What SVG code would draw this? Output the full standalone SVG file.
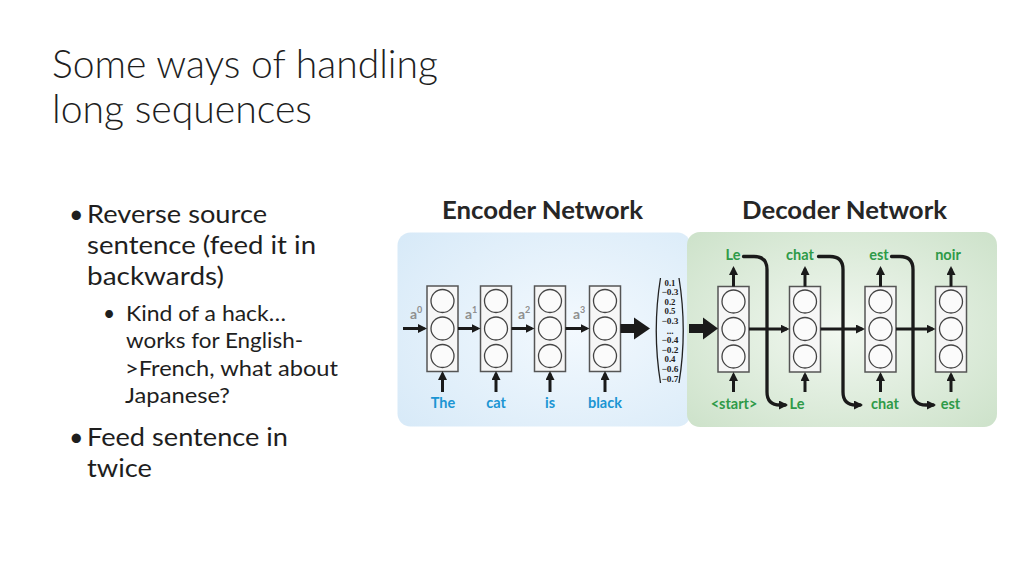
<svg xmlns="http://www.w3.org/2000/svg" width="1024" height="576" viewBox="0 0 1024 576">
<defs>
<style>
.title{font-family:Lato,"Open Sans","Liberation Sans",sans-serif;font-weight:300;font-size:39px;fill:#1e1e1e}
.b1{font-family:Lato,"Open Sans","Liberation Sans",sans-serif;font-size:25px;fill:#1e1e1e}
.b2{font-family:Lato,"Open Sans","Liberation Sans",sans-serif;font-size:21px;fill:#1e1e1e}
.head{font-family:Lato,"Open Sans","Liberation Sans",sans-serif;font-weight:bold;font-size:25px;fill:#262626}
.blue{font-family:Lato,"Open Sans","Liberation Sans",sans-serif;font-weight:bold;font-size:14.5px;fill:#1b95d3;text-anchor:middle}
.green{font-family:Lato,"Open Sans","Liberation Sans",sans-serif;font-weight:bold;font-size:14.5px;fill:#2e9a48;text-anchor:middle}
.act{font-family:Lato,"Open Sans","Liberation Sans",sans-serif;font-weight:bold;font-size:14px;fill:#8f8f8f}
.vec{font-family:"Liberation Serif",serif;font-weight:bold;font-size:9px;fill:#222;text-anchor:middle}
.cell{fill:#f6f6f6;stroke:#555;stroke-width:1.5}
.circ{fill:#fbfbfb;stroke:#444;stroke-width:1.3}
.arr{fill:none;stroke:#1a1a1a;stroke-width:3;marker-end:url(#ah)}
.curve{fill:none;stroke:#1a1a1a;stroke-width:3.3;stroke-linecap:round;marker-end:url(#ah)}
.big{fill:#1a1a1a}
.paren{fill:none;stroke:#222;stroke-width:1.3}
</style>
<marker id="ah" viewBox="0 0 10 10" refX="7" refY="5" markerWidth="9" markerHeight="9" markerUnits="userSpaceOnUse" orient="auto"><path d="M0,0 L10,5 L0,10 z" fill="#1a1a1a"/></marker>
<radialGradient id="gEnc" cx="0.6" cy="0.5" r="0.75">
<stop offset="0" stop-color="#f3f9fe"/>
<stop offset="1" stop-color="#d8eaf8"/>
</radialGradient>
<radialGradient id="gDec" cx="0.5" cy="0.5" r="0.7">
<stop offset="0" stop-color="#f2f8f1"/>
<stop offset="1" stop-color="#cde2ca"/>
</radialGradient>
<g id="cellShape">
<rect class="cell" x="0" y="0" width="31" height="85.5"/>
<circle class="circ" cx="15.5" cy="15" r="11.5"/>
<circle class="circ" cx="15.5" cy="42.5" r="11.5"/>
<circle class="circ" cx="15.5" cy="70" r="11.5"/>
</g>
</defs>
<rect width="1024" height="576" fill="#ffffff"/>

<g id="slide-text">
<text class="title" x="52" y="78" textLength="386" lengthAdjust="spacingAndGlyphs">Some ways of handling</text>
<text class="title" x="52" y="123" textLength="260" lengthAdjust="spacingAndGlyphs">long sequences</text>
<text class="b1" x="69" y="223">•</text>
<text class="b1" x="87" y="223" textLength="180" lengthAdjust="spacingAndGlyphs">Reverse source</text>
<text class="b1" x="87" y="254" textLength="229" lengthAdjust="spacingAndGlyphs">sentence (feed it in</text>
<text class="b1" x="87" y="285" textLength="137" lengthAdjust="spacingAndGlyphs">backwards)</text>
<text class="b2" x="103" y="321">•</text>
<text class="b2" x="126" y="321" textLength="160" lengthAdjust="spacingAndGlyphs">Kind of a hack…</text>
<text class="b2" x="126" y="348" textLength="177" lengthAdjust="spacingAndGlyphs">works for English-</text>
<text class="b2" x="125" y="376" textLength="213" lengthAdjust="spacingAndGlyphs">&gt;French, what about</text>
<text class="b2" x="125" y="403" textLength="105" lengthAdjust="spacingAndGlyphs">Japanese?</text>
<text class="b1" x="69" y="446">•</text>
<text class="b1" x="87" y="446" textLength="201" lengthAdjust="spacingAndGlyphs">Feed sentence in</text>
<text class="b1" x="87" y="477" textLength="65" lengthAdjust="spacingAndGlyphs">twice</text>
</g>

<g id="panels">
<rect id="encoder-panel" x="397.5" y="232.5" width="293" height="194" rx="13" fill="url(#gEnc)"/>
<rect id="decoder-panel" x="687" y="232" width="310" height="195" rx="13" fill="url(#gDec)"/>
<text class="head" x="442" y="219" textLength="201" lengthAdjust="spacingAndGlyphs">Encoder Network</text>
<text class="head" x="742" y="219" textLength="205" lengthAdjust="spacingAndGlyphs">Decoder Network</text>
</g>

<g id="encoder">
<g id="enc1"><use href="#cellShape" x="427" y="286"/><text class="blue" x="443" y="408">The</text></g>
<g id="enc2"><use href="#cellShape" x="480.5" y="286"/><text class="blue" x="496" y="408">cat</text></g>
<g id="enc3"><use href="#cellShape" x="534.5" y="286"/><text class="blue" x="550" y="408">is</text></g>
<g id="enc4"><use href="#cellShape" x="589.5" y="286"/><text class="blue" x="605" y="408">black</text></g>
<g id="act-labels">
<text class="act" x="410" y="319">a<tspan font-size="9" dy="-6">0</tspan></text>
<text class="act" x="465" y="319">a<tspan font-size="9" dy="-6">1</tspan></text>
<text class="act" x="518" y="319">a<tspan font-size="9" dy="-6">2</tspan></text>
<text class="act" x="573" y="319">a<tspan font-size="9" dy="-6">3</tspan></text>
</g>
</g>

<g id="vector">
<path class="paren" d="M660.5,278 Q652,330.5 660.5,383"/>
<path class="paren" d="M679,278 Q687.5,330.5 679,383"/>
<text class="vec" x="670" y="285.5" textLength="11" lengthAdjust="spacingAndGlyphs">0.1</text>
<text class="vec" x="670" y="295.1" textLength="17" lengthAdjust="spacingAndGlyphs">−0.3</text>
<text class="vec" x="670" y="304.7" textLength="11" lengthAdjust="spacingAndGlyphs">0.2</text>
<text class="vec" x="670" y="314.3" textLength="11" lengthAdjust="spacingAndGlyphs">0.5</text>
<text class="vec" x="670" y="323.9" textLength="17" lengthAdjust="spacingAndGlyphs">−0.3</text>
<text class="vec" x="670" y="333.5" font-size="7">...</text>
<text class="vec" x="670" y="343.1" textLength="17" lengthAdjust="spacingAndGlyphs">−0.4</text>
<text class="vec" x="670" y="352.7" textLength="17" lengthAdjust="spacingAndGlyphs">−0.2</text>
<text class="vec" x="670" y="362.3" textLength="11" lengthAdjust="spacingAndGlyphs">0.4</text>
<text class="vec" x="670" y="371.9" textLength="17" lengthAdjust="spacingAndGlyphs">−0.6</text>
<text class="vec" x="670" y="381.5" textLength="17" lengthAdjust="spacingAndGlyphs">−0.7</text>
</g>

<g id="decoder">
<g id="dec1"><use href="#cellShape" x="718" y="286.5"/><text class="green" x="733" y="259.5">Le</text><text class="green" x="734" y="408.5">&lt;start&gt;</text></g>
<g id="dec2"><use href="#cellShape" x="789.5" y="286.5"/><text class="green" x="800" y="259.5">chat</text><text class="green" x="797" y="408.5">Le</text></g>
<g id="dec3"><use href="#cellShape" x="865" y="286.5"/><text class="green" x="879" y="259.5">est</text><text class="green" x="885" y="408.5">chat</text></g>
<g id="dec4"><use href="#cellShape" x="935.5" y="286.5"/><text class="green" x="948" y="259.5">noir</text><text class="green" x="950.5" y="408.5">est</text></g>
</g>

<g id="connectors">
<path class="arr" d="M403,328.5 H424.3"/>
<path class="arr" d="M458,328.5 H477.8"/>
<path class="arr" d="M511.5,328.5 H531.8"/>
<path class="arr" d="M565.5,328.5 H586.8"/>
<path class="arr" d="M442.5,392 V373.7"/>
<path class="arr" d="M496,392 V373.7"/>
<path class="arr" d="M550,392 V373.7"/>
<path class="arr" d="M605,392 V373.7"/>
<polygon class="big" points="620.5,324 634,324 634,317.5 650,328.5 634,339.5 634,333 620.5,333"/>
<polygon class="big" points="689,324 703,324 703,317.5 718,328.5 703,339.5 703,333 689,333"/>
<path class="arr" d="M749,329 H786.8"/>
<path class="arr" d="M820.5,329 H862.3"/>
<path class="arr" d="M896,329 H932.8"/>
<path class="arr" d="M733.5,392 V374.7"/>
<path class="arr" d="M805,392 V374.7"/>
<path class="arr" d="M880.5,392 V374.7"/>
<path class="arr" d="M951,392 V374.7"/>
<path class="arr" d="M733.5,286.5 V268.7"/>
<path class="arr" d="M805,286.5 V268.7"/>
<path class="arr" d="M880.5,286.5 V268.7"/>
<path class="arr" d="M951,286.5 V268.7"/>
<path class="curve" d="M743.5,256.5 H754 Q767,256.5 767,269.5 V392 Q767,405 780,405 H785.3"/>
<path class="curve" d="M818.5,256.5 H830 Q843,256.5 843,269.5 V392 Q843,405 856,405 H860.3"/>
<path class="curve" d="M891.5,256.5 H900 Q913,256.5 913,269.5 V392 Q913,405 926,405 H933.3"/>
</g>
</svg>
